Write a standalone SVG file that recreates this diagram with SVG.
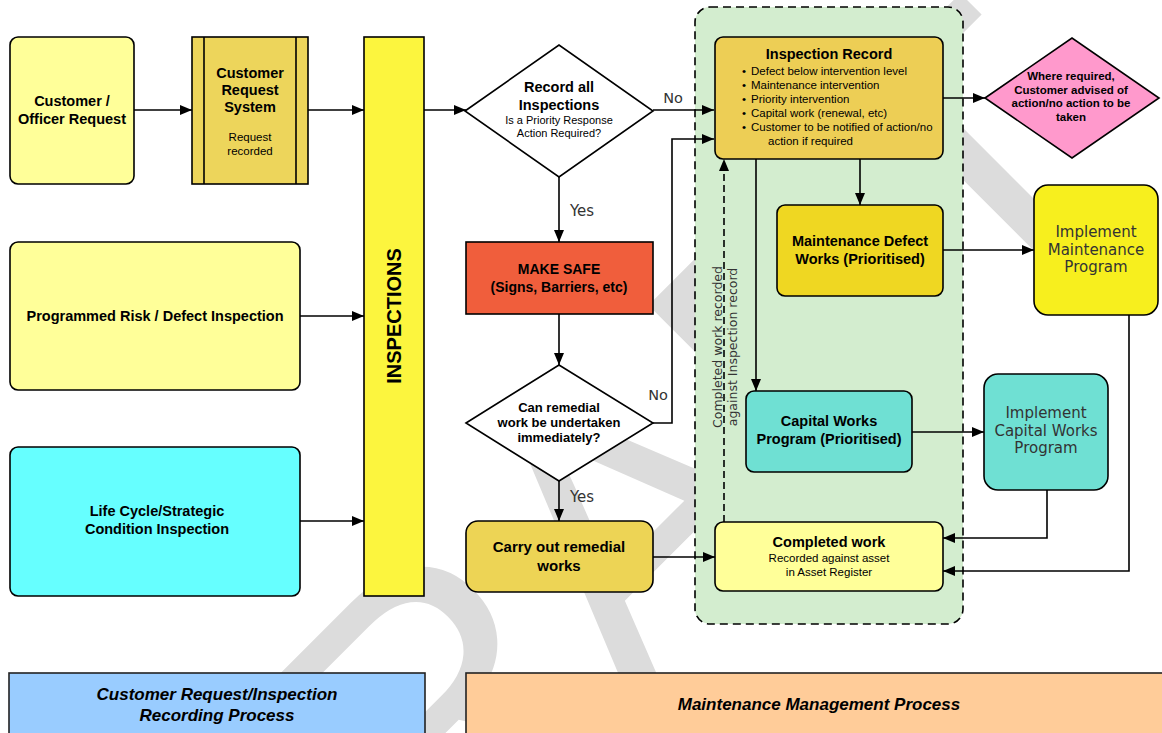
<svg xmlns="http://www.w3.org/2000/svg" width="1162" height="733" viewBox="0 0 1162 733">
<defs>
<marker id="ah" markerWidth="12" markerHeight="10" refX="12" refY="5" orient="auto" markerUnits="userSpaceOnUse"><path d="M0,0 L12,5 L0,10 z" fill="#000"/></marker>
<style>
.bx{stroke:#000;stroke-width:1.6}
.t{font-family:"Liberation Sans",Arial,sans-serif;fill:#000;text-anchor:middle}
.b{font-weight:bold}
.v{font-family:"DejaVu Sans",Verdana,sans-serif;fill:#333;text-anchor:middle}
.c{fill:none;stroke:#000;stroke-width:1.6}
</style>
</defs>
<rect width="1162" height="733" fill="#fff"/>
<g id="watermark">
<text transform="translate(228,1110) rotate(-45)" font-family="Liberation Sans, Arial, sans-serif" font-size="395" fill="#DCDCDC">DRAFT</text>
</g>
<g id="container">
<rect x="695" y="7" width="268" height="617" rx="15" fill="#D3EDCF" stroke="#000" stroke-width="1.6" stroke-dasharray="8,5"/>
</g>
<g id="connectors">
<path class="c" d="M134,110 H192" marker-end="url(#ah)"/>
<path class="c" d="M308,110 H364" marker-end="url(#ah)"/>
<path class="c" d="M300,316 H364" marker-end="url(#ah)"/>
<path class="c" d="M300,521 H364" marker-end="url(#ah)"/>
<path class="c" d="M424,110 H466" marker-end="url(#ah)"/>
<path class="c" d="M653,110 H714" marker-end="url(#ah)"/>
<path class="c" d="M559,177 V242" marker-end="url(#ah)"/>
<path class="c" d="M559,314 V365" marker-end="url(#ah)"/>
<path class="c" d="M653,423 H672 V139 H714" marker-end="url(#ah)"/>
<path class="c" d="M559,481 V521" marker-end="url(#ah)"/>
<path class="c" d="M653,557 H715" marker-end="url(#ah)"/>
<path class="c" d="M943,98 H985" marker-end="url(#ah)"/>
<path class="c" d="M860,159 V205" marker-end="url(#ah)"/>
<path class="c" d="M756,159 V391" marker-end="url(#ah)"/>
<path class="c" d="M943,250 H1034" marker-end="url(#ah)"/>
<path class="c" d="M912,432 H984" marker-end="url(#ah)"/>
<path class="c" d="M1047,490 V538 H943" marker-end="url(#ah)"/>
<path class="c" d="M1129,315 V571 H943" marker-end="url(#ah)"/>
<path class="c" d="M724,522 V159" stroke-dasharray="7,4" marker-end="url(#ah)"/>
<text class="v" x="673" y="103" font-size="14.5">No</text>
<text class="v" x="582" y="216" font-size="15">Yes</text>
<text class="v" x="658" y="400" font-size="14.5">No</text>
<text class="v" x="582" y="502" font-size="15">Yes</text>
<text class="v" transform="translate(722,347) rotate(-90)" font-size="12.5">Completed work recorded</text>
<text class="v" transform="translate(737,347) rotate(-90)" font-size="12.5">against Inspection record</text>
</g>
<g id="n-customer-officer">
<rect class="bx" x="10" y="37" width="124" height="147" rx="8" fill="#FFFF99"/>
<text class="t b" x="72" y="106" font-size="14.5">Customer /</text>
<text class="t b" x="72" y="124" font-size="14.5">Officer Request</text>
</g>
<g id="n-crs">
<rect class="bx" x="192" y="37" width="116" height="147" fill="#EDD55B"/>
<path class="c" d="M204,37 V184 M296,37 V184"/>
<text class="t b" x="250" y="78" font-size="14.5">Customer</text>
<text class="t b" x="250" y="95" font-size="14.5">Request</text>
<text class="t b" x="250" y="112" font-size="14.5">System</text>
<text class="t" x="250" y="141" font-size="11.5" fill="#222">Request</text>
<text class="t" x="250" y="155" font-size="11.5" fill="#222">recorded</text>
</g>
<g id="n-inspections">
<rect class="bx" x="364" y="37" width="60" height="559" fill="#FCF53E"/>
<text class="t b" transform="translate(401,316) rotate(-90)" font-size="20">INSPECTIONS</text>
</g>
<g id="n-programmed">
<rect class="bx" x="10" y="242" width="290" height="148" rx="8" fill="#FFFF99"/>
<text class="t b" x="155" y="321" font-size="14.5">Programmed Risk / Defect Inspection</text>
</g>
<g id="n-lifecycle">
<rect class="bx" x="10" y="447" width="290" height="149" rx="8" fill="#66FFFF"/>
<text class="t b" x="157" y="516" font-size="14.5">Life Cycle/Strategic</text>
<text class="t b" x="157" y="534" font-size="14.5">Condition Inspection</text>
</g>
<g id="n-record-all">
<polygon class="bx" points="465,111 559,45 653,111 559,177" fill="#fff"/>
<text class="t b" x="559" y="92" font-size="14.5">Record all</text>
<text class="t b" x="559" y="110" font-size="14.5">Inspections</text>
<text class="t" x="559" y="124" font-size="11">Is a Priority Response</text>
<text class="t" x="559" y="137" font-size="11">Action Required?</text>
</g>
<g id="n-make-safe">
<rect class="bx" x="466" y="242" width="187" height="72" fill="#F05E3C"/>
<text class="t b" x="559" y="274" font-size="14">MAKE SAFE</text>
<text class="t b" x="559" y="292" font-size="14">(Signs, Barriers, etc)</text>
</g>
<g id="n-can-remedial">
<polygon class="bx" points="466,423 559,365 653,423 559,481" fill="#fff"/>
<text class="t b" x="559" y="412" font-size="13">Can remedial</text>
<text class="t b" x="559" y="427" font-size="13">work be undertaken</text>
<text class="t b" x="559" y="442" font-size="13">immediately?</text>
</g>
<g id="n-carry-out">
<rect class="bx" x="466" y="521" width="187" height="71" rx="12" fill="#EDD455"/>
<text class="t b" x="559" y="552" font-size="15">Carry out remedial</text>
<text class="t b" x="559" y="571" font-size="15">works</text>
</g>
<g id="n-inspection-record">
<rect class="bx" x="715" y="37" width="228" height="122" rx="8" fill="#EDCE55"/>
<text class="t b" x="829" y="59" font-size="14.5">Inspection Record</text>
<g font-family="Liberation Sans, Arial, sans-serif" font-size="11.5" fill="#000">
<text x="742" y="75">•</text><text x="751" y="75">Defect below intervention level</text>
<text x="742" y="89">•</text><text x="751" y="89">Maintenance intervention</text>
<text x="742" y="103">•</text><text x="751" y="103">Priority intervention</text>
<text x="742" y="117">•</text><text x="751" y="117">Capital work (renewal, etc)</text>
<text x="742" y="131">•</text><text x="751" y="131">Customer to be notified of action/no</text>
<text x="768" y="145">action if required</text>
</g>
</g>
<g id="n-customer-advised">
<polygon class="bx" points="985,98 1072,38 1159,98 1072,158" fill="#FF99CC"/>
<text class="t b" x="1071" y="80" font-size="11.5">Where required,</text>
<text class="t b" x="1071" y="93.5" font-size="11.5">Customer advised of</text>
<text class="t b" x="1071" y="107" font-size="11.5">action/no action to be</text>
<text class="t b" x="1071" y="120.5" font-size="11.5">taken</text>
</g>
<g id="n-maint-defect">
<rect class="bx" x="777" y="205" width="166" height="91" rx="8" fill="#EFD722"/>
<text class="t b" x="860" y="246" font-size="14.5">Maintenance Defect</text>
<text class="t b" x="860" y="264" font-size="14.5">Works (Prioritised)</text>
</g>
<g id="n-impl-maint">
<rect class="bx" x="1034" y="185" width="124" height="130" rx="14" fill="#F7EF1E"/>
<text class="v" x="1096" y="237" font-size="15">Implement</text>
<text class="v" x="1096" y="255" font-size="15">Maintenance</text>
<text class="v" x="1096" y="272" font-size="15">Program</text>
</g>
<g id="n-capital">
<rect class="bx" x="746" y="391" width="166" height="81" rx="8" fill="#6FE0D3"/>
<text class="t b" x="829" y="426" font-size="14.5">Capital Works</text>
<text class="t b" x="829" y="444" font-size="14.5">Program (Prioritised)</text>
</g>
<g id="n-impl-capital">
<rect class="bx" x="984" y="374" width="124" height="116" rx="14" fill="#6FE0D3"/>
<text class="v" x="1046" y="418" font-size="15">Implement</text>
<text class="v" x="1046" y="436" font-size="15">Capital Works</text>
<text class="v" x="1046" y="453" font-size="15">Program</text>
</g>
<g id="n-completed">
<rect class="bx" x="715" y="522" width="228" height="69" rx="8" fill="#FFFF99"/>
<text class="t b" x="829" y="547" font-size="14.5">Completed work</text>
<text class="t" x="829" y="562" font-size="11.5" fill="#222">Recorded against asset</text>
<text class="t" x="829" y="576" font-size="11.5" fill="#222">in Asset Register</text>
</g>
<g id="legend-customer">
<rect x="9" y="673" width="416" height="70" fill="#99CCFF" stroke="#222" stroke-width="1.6"/>
<text class="t b" x="217" y="700" font-size="17" font-style="italic">Customer Request/Inspection</text>
<text class="t b" x="217" y="721" font-size="17" font-style="italic">Recording Process</text>
</g>
<g id="legend-maintenance">
<rect x="466" y="673" width="710" height="70" fill="#FFCC99" stroke="#222" stroke-width="1.6"/>
<text class="t b" x="819" y="710" font-size="17" font-style="italic">Maintenance Management Process</text>
</g>
</svg>
